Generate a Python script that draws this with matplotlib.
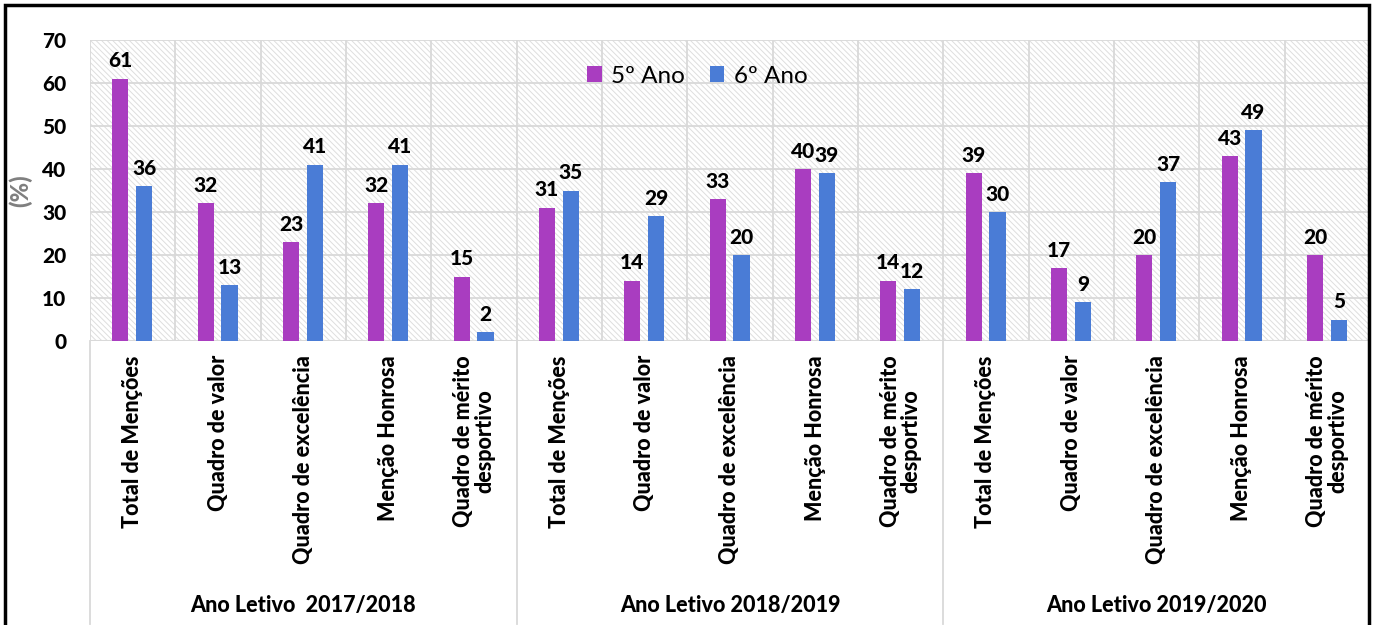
import matplotlib.pyplot as plt
import matplotlib.transforms as mtransforms
from matplotlib.patches import Rectangle
import numpy as np

plt.rcParams['font.family'] = ['Lato', 'DejaVu Sans']
plt.rcParams['hatch.linewidth'] = 0.7

categories = ["Total de Menções", "Quadro de valor", "Quadro de excelência",
              "Menção Honrosa", "Quadro de mérito\ndesportivo"] * 3
groups = ["Ano Letivo  2017/2018", "Ano Letivo 2018/2019", "Ano Letivo 2019/2020"]
ano5 = [61, 32, 23, 32, 15, 31, 14, 33, 40, 14, 39, 17, 20, 43, 20]
ano6 = [36, 13, 41, 41, 2, 35, 29, 20, 39, 12, 30, 9, 37, 49, 5]

purple = "#A93DC0"
blue = "#4A7CD6"
grid_c = "#d9d9d9"

fig = plt.figure(figsize=(13.76, 6.25), dpi=100)
ax = fig.add_axes([90 / 1376, 1 - 341 / 625, 1280 / 1376, 301 / 625])

x = np.arange(len(categories))
w = 0.19
b1 = ax.bar(x - 0.145, ano5, w, color=purple, label="5º Ano", zorder=3)
b2 = ax.bar(x + 0.135, ano6, w, color=blue, label="6º Ano", zorder=3)

for bars, vals in ((b1, ano5), (b2, ano6)):
    for r, v in zip(bars, vals):
        ax.annotate(str(v), (r.get_x() + r.get_width() / 2, v), xytext=(0, 6),
                    textcoords="offset points", ha="center", va="bottom",
                    fontsize=15, fontweight="black", zorder=4)

ax.set_xlim(-0.5, len(categories) - 0.5)
ax.set_ylim(0, 70)
ax.set_yticks(range(0, 71, 10))
ax.tick_params(axis="y", length=0, labelsize=15, pad=17)
for t in ax.get_yticklabels():
    t.set_fontweight("black")

# hatched background
ax.add_patch(Rectangle((0, 0), 1, 1, transform=ax.transAxes, facecolor="white",
                       edgecolor="#dedede", hatch="\\\\\\\\\\\\", linewidth=0, zorder=0))

# grid
for yv in range(10, 71, 10):
    ax.axhline(yv, color=grid_c, lw=1.3, zorder=1)
for xv in np.arange(-0.5, len(categories), 1):
    ax.axvline(xv, color=grid_c, lw=1.3, zorder=1)
ax.axhline(0, color=grid_c, lw=1.5, zorder=2)

for s in ax.spines.values():
    s.set_visible(False)

ax.set_xticks(x)
ax.set_xticklabels([])
trans = mtransforms.blended_transform_factory(ax.transData, ax.transAxes)
for xi, lab in zip(x, categories):
    ax.text(xi, -0.047, lab, transform=trans, rotation=90, ha="center", va="top",
            fontsize=15.5, fontweight="black", multialignment="center", linespacing=1.0)
ax.tick_params(axis="x", length=0)

# group separators and labels
for gx in (-0.5, 4.5, 9.5, 14.5):
    ax.plot([gx, gx], [0, -0.94], transform=trans, color=grid_c, lw=1.3, clip_on=False)
for i, g in enumerate(groups):
    ax.text(i * 5 + 2, -0.88, g, transform=trans, ha="center", va="center",
            fontsize=15.5, fontweight="black")

ax.set_ylabel("(%)", fontsize=17, fontweight="black", color="#7f7f7f")
ax.yaxis.set_label_coords(-58 / 1280, 0.5)

ax.legend(loc="center left", bbox_to_anchor=(485 / 1280, 0.88), ncol=2, frameon=False,
          fontsize=17.5, handlelength=0.6, handleheight=0.6, handletextpad=0.4,
          columnspacing=1.0, borderpad=0)

# outer frame
fig.add_artist(Rectangle((5 / 1376, -0.01), 1364 / 1376, 1 - 5 / 625 + 0.01,
                         transform=fig.transFigure, fill=False, edgecolor="black",
                         linewidth=2.5, zorder=10))

fig.savefig("out.png", dpi=100)
